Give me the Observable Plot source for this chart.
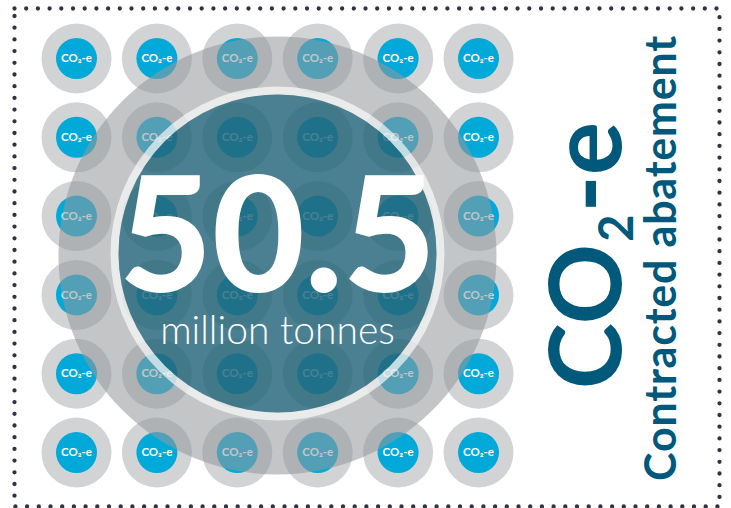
<!DOCTYPE html>
<html><head><meta charset="utf-8">
<script src="https://cdn.jsdelivr.net/npm/d3@7"></script>
<script src="https://cdn.jsdelivr.net/npm/@observablehq/plot@0.6"></script>
<style>
html,body{margin:0;padding:0;background:#fff;}
</style>
</head><body><div id="chart"></div>
<script>
// ---- data ----
const columns = [1, 2, 3, 4, 5, 6];
const rows = [1, 2, 3, 4, 5, 6];
const tokenLabel = "CO₂-e";
const headlineValue = "50.5";
const headlineUnit = "million tonnes";
const sideTitle = "CO2-e";
const sideSubtitle = "Contracted abatement";
const centreColumn = [3.5];
const centreRow = [3.5];

// ---- derived tables ----
const tokens = rows.flatMap(r => columns.map(c => ({c, r, label: tokenLabel})));
const centre = centreColumn.map((c, i) => ({c, r: centreRow[i]}));
const headline = [{c: centreColumn[0], r: centreRow[0], value: headlineValue, unit: headlineUnit}];
const side = [{c: 7.37, r: 3.5, title: sideTitle}, {c: 8.28, r: 3.53, title: sideSubtitle}];

const teal = "#00587a";

const chart = Plot.plot({
  width: 731,
  height: 508,
  marginLeft: 14, marginTop: 8, marginRight: 12, marginBottom: 2,
  style: {fontFamily: "Lato, 'Noto Sans', sans-serif", background: "#fff"},
  x: {domain: [1, 6], range: [76, 478], axis: null},
  y: {domain: [1, 6], range: [58, 452], axis: null},
  marks: [
    Plot.frame({stroke: "#2f3440", strokeWidth: 4.3, strokeDasharray: "0,11.7", strokeLinecap: "round"}),
    Plot.dot(tokens, {x: "c", y: "r", r: 35, fill: "#d1d3d4"}),
    Plot.dot(tokens, {x: "c", y: "r", r: 20.5, fill: "#00a9d8"}),
    Plot.text(tokens, {x: "c", y: "r", text: "label", fill: "white", fontSize: 11.5, fontWeight: 700}),
    Plot.dot(centre, {x: "c", y: "r", r: 219, fill: "rgb(148,152,156)", fillOpacity: 0.56}),
    Plot.dot(centre, {x: "c", y: "r", r: 163, stroke: "white", strokeWidth: 8, strokeOpacity: 0.65, fill: "none", dy: -2}),
    Plot.dot(centre, {x: "c", y: "r", r: 159, fill: "#00566f", fillOpacity: 0.62, dy: -2}),
    Plot.text(headline, {x: "c", y: "r", text: "value", fill: "white", fontSize: 160, fontWeight: 900, dy: -15, letterSpacing: -3}),
    Plot.text(headline, {x: "c", y: "r", text: "unit", fill: "white", fontSize: 39, fontWeight: 300, dy: 76}),
    Plot.text(side, {x: "c", y: "r", text: "title", fill: teal, rotate: -90,
      fontSize: (d, i) => i === 0 ? 100 : 43, fontWeight: 700})
  ]
});
document.getElementById("chart").appendChild(chart);

// letter spacing for the side subtitle, subscript in the large side title
const texts = d3.select(chart).selectAll("text");
texts.filter(function() { return this.textContent === sideSubtitle; })
  .attr("letter-spacing", 0.8);
texts.filter(function() { return this.textContent === sideTitle; })
  .each(function() {
    const t = d3.select(this);
    t.text(null);
    t.append("tspan").text("CO");
    t.append("tspan").attr("font-size", 47).attr("dy", 12).attr("dx", 2).text("2");
    t.append("tspan").attr("dy", -12).attr("dx", 2).text("-e");
  });
</script>
</body></html>
